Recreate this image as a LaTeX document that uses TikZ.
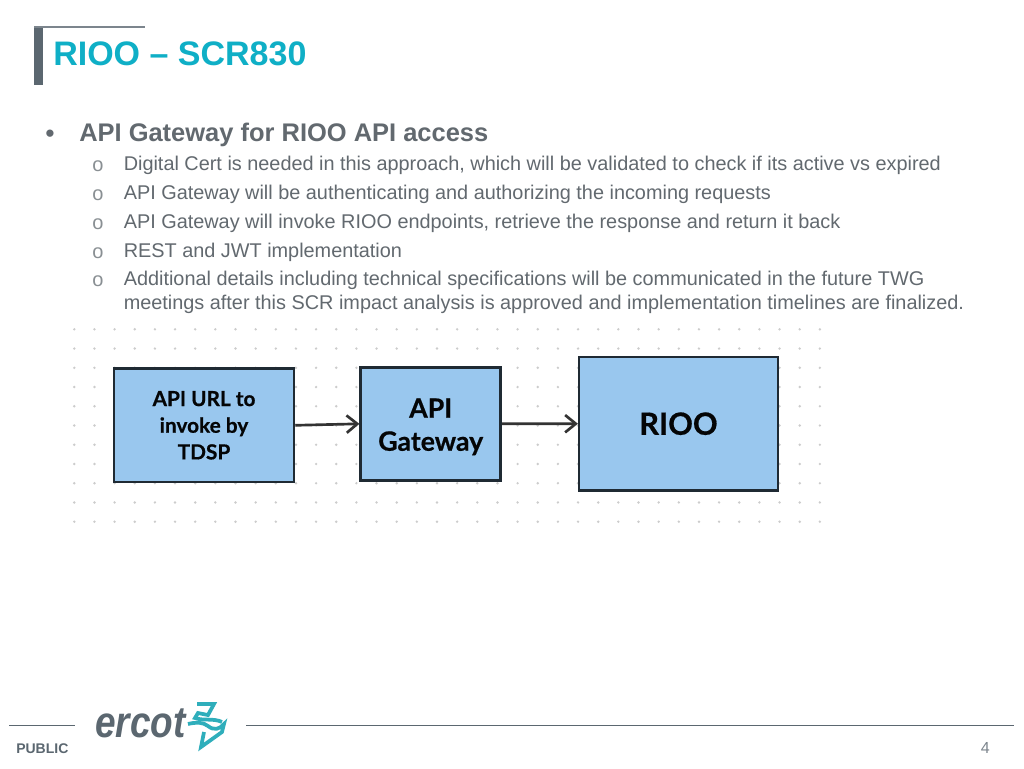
\documentclass[tikz,border=0pt]{standalone}
\usepackage{fontspec}
\setmainfont{Liberation Sans}
\newfontfamily\boxfont{Lato}[BoldFeatures={FakeBold=0.6}]
\usetikzlibrary{arrows.meta}
\definecolor{slate}{HTML}{5B6770}
\definecolor{teal}{HTML}{0FAFC6}
\definecolor{logoteal}{HTML}{2FAEBB}
\definecolor{bodygray}{HTML}{62696F}
\definecolor{boxfill}{HTML}{99C7EE}
\definecolor{boxline}{HTML}{1F2A33}
\tikzset{
  flowbox/.style={draw=boxline,fill=boxfill,line width=1.9pt,inner sep=0pt,align=center,text=black!88!boxline,font=\boxfont\fontsize{15.6}{20}\selectfont\bfseries},
  flowarrow/.style={draw=black!80,line width=2pt,-{Straight Barb[length=8pt,width=13pt,line width=2pt]}},
  sub/.style={anchor=base west,text=bodygray,font=\fontsize{14.9}{18}\selectfont,inner sep=0pt,align=left},
  ring/.style={anchor=base,text=bodygray!75,font=\fontsize{15}{15}\selectfont,inner sep=0pt},
  rule/.style={draw=slate,line width=0.6pt}
}
\begin{document}
\begin{tikzpicture}[x=0.75pt,y=-0.75pt]
\useasboundingbox[fill=white] (0,0) rectangle (1024,768);
% title
\fill[slate] (34,27) rectangle (43,85);
\draw[slate!80,line width=0.8pt] (34,27) -- (145,27);
\node[anchor=base west,text=teal,inner sep=0pt,font=\fontsize{25.5}{25}\selectfont\bfseries] (title) at (53,65) {RIOO – SCR830};
% bullets
\node[anchor=base,text=bodygray,inner sep=0pt,font=\fontsize{20}{20}\selectfont] (b0) at (50,142) {•};
\node[anchor=base west,text=bodygray,inner sep=0pt,font=\fontsize{19.1}{19}\selectfont\bfseries] (head) at (79,141) {API Gateway for RIOO API access};
\foreach \n/\y in {1/171.5,2/200.5,3/229.5,4/258.5,5/286.5}{\node[ring] (r\n) at (98,\y) {o};}
\node[sub] (t1) at (123.5,170.5) {Digital Cert is needed in this approach, which will be validated to check if its active vs expired};
\node[sub] (t2) at (123.5,199) {API Gateway will be authenticating and authorizing the incoming requests};
\node[sub] (t3) at (123.5,228) {API Gateway will invoke RIOO endpoints, retrieve the response and return it back};
\node[sub] (t4) at (123.5,257) {REST and JWT implementation};
\node[sub] (t5) at (123.5,285) {Additional details including technical specifications will be communicated in the future TWG};
\node[sub] (t6) at (123.5,309) {meetings after this SCR impact analysis is approved and implementation timelines are finalized.};
% dots
\foreach \i in {0,...,37}\foreach \j in {0,...,10}{
  \fill[black!20] ({74.3+20.15*\i},{329.3+19.24*\j}) circle (1pt);}
% boxes
\node[flowbox,minimum width=135pt,minimum height=85pt] (url) at (204,425.3) {API URL to\\invoke by\\TDSP};
\node[flowbox,minimum width=105pt,minimum height=84.7pt,font=\boxfont\fontsize{20}{24.75}\selectfont\bfseries] (gw) at (430.7,423.8) {\rule{0pt}{19pt}API\\Gateway};
\node[flowbox,minimum width=149pt,minimum height=100pt,font=\boxfont\fontsize{23}{24}\selectfont\bfseries] (rioo) at (678.5,423.7) {RIOO};
\draw[flowarrow] (url.east) -- (gw.west);
\draw[flowarrow] (gw.east) -- (rioo.west);
% footer
\draw[rule] (9,725) -- (75,725);
\draw[rule] (246,725) -- (1014,725);
\node[anchor=base west,inner sep=0pt,text=slate,font=\fontsize{10.5}{10.5}\selectfont\bfseries] (pub) at (16,753) {PUBLIC};
\node[anchor=base east,inner sep=0pt,text=slate!80,font=\fontsize{12}{12}\selectfont] (num) at (990,753) {4};
\node[anchor=base west,inner sep=0pt,text=slate,xscale=0.84,font=\fontsize{33}{33}\selectfont\itshape\bfseries] (logo) at (95,737) {ercot};
% logo mark
\draw[logoteal,line width=2.8pt,line join=miter]
 (197,704) -- (214,704) -- (208,715) -- (198,713) -- (195,718) .. controls (203,721) and (214,718) .. (222,722);
\draw[logoteal,line width=2.8pt,line join=miter]
 (188,724) .. controls (196,722) and (203,722) .. (208,726) .. controls (214,731) and (220,729) .. (224,724) -- (222,732) -- (201,747) -- (204,732);
\end{tikzpicture}
\end{document}
